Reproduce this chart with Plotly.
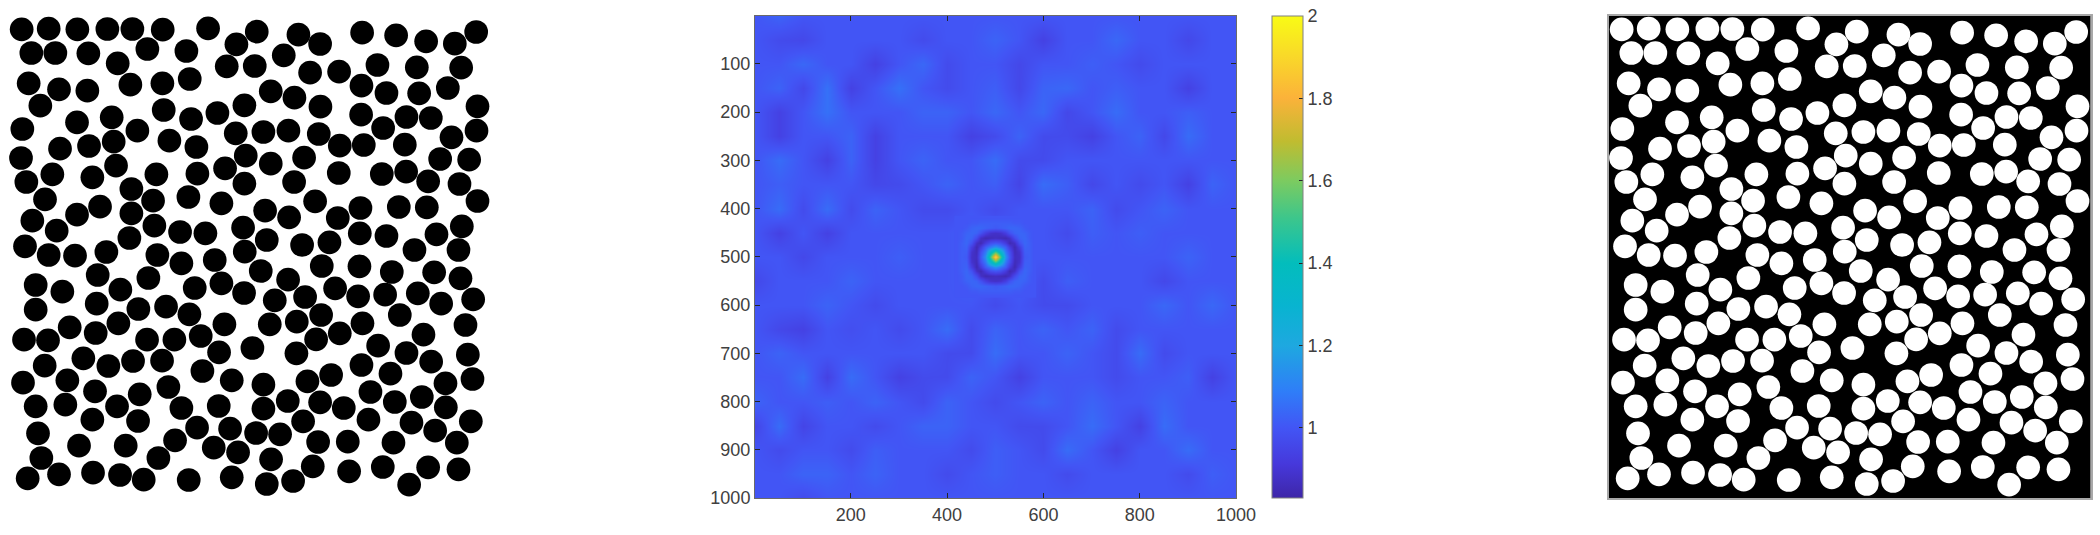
import plotly.graph_objects as go

W, H = 2100, 535

# Particle centres (unit = 1/3 of a screen pixel)
upper_x = [65,146,232,322,397,488,624,770,895,960,1086,1188,1278,1364,1428,709,
           94,166,265,442,559,851,353,680,764,930,1017,1132,1250,1383,
           86,177,262,391,487,569,812,883,1084,1159,1257,1343,
           121,491,733,652,573,961,1432,1083,
           335,231,67,412,1219,1292,1149,1429,
           707,790,865,956,341,508,267,180,589,1354,1019,1091,1214,
           63,737,912,812,1320,1407,
           348,157,277,469,592,675,1016,1145,1218,1284,1378,733,882,
           79,394,135,459,565,664,945,1432,1081,1196,1280,
           300,231,394,795,867,1013,97,
           463,540,616,729,1079,1159,1385,1309,170,
           388,800,906,988,75,
           146,225,319,472,544,644,734,1243,1375]
upper_y = [88,86,88,87,87,89,85,95,104,132,98,106,124,131,96,133,
           159,159,160,147,153,166,190,199,198,218,215,195,202,203,
           250,268,272,254,250,237,274,293,257,279,280,264,
           317,330,316,339,357,320,319,344,
           352,367,387,392,351,354,384,392,
           400,396,392,402,425,422,438,446,441,412,437,435,434,
           474,467,473,491,477,479,
           497,523,532,523,521,505,519,522,515,544,552,551,546,
           546,567,598,602,591,610,604,603,624,621,622,
           620,644,640,632,652,654,662,
           677,696,700,683,700,708,679,703,692,
           714,720,735,727,739,
           765,767,756,765,790,780,755,750,750]
lower_x = [782,965,1078,1175,1302,1381,
           293,107,187,361,445,584,664,732,864,824,915,1005,1074,1155,1253,1323,1419,
           107,290,415,498,568,673,809,890,963,1087,1199,1396,
           209,355,287,72,144,441,523,602,1019,948,1270,1134,
           757,657,889,250,399,486,325,134,1219,1403,1293,1084,1171,
           607,993,922,695,790,69,202,505,285,419,1336,1417,1111,1265,
           107,196,351,544,656,790,863,960,1031,1184,1337,
           277,414,909,1105,1234,1412,
           114,591,690,768,840,1305,
           525,237,377,954,1043,1180,1370,641,714,
           124,475,813,938,1047,1148,1284,1375,
           83,177,279,360,431,566,695,800,879,1227]
lower_y = [813,798,799,816,817,835,
           825,855,875,869,834,864,850,879,839,901,891,865,889,884,880,911,898,
           929,911,927,920,943,973,973,965,945,970,945,975,
           982,970,999,1019,1021,1019,1019,1008,1000,1018,1004,1037,
           1044,1057,1060,1075,1083,1082,1098,1097,1059,1064,1085,1095,1121,
           1113,1125,1144,1141,1154,1148,1141,1161,1174,1183,1150,1137,1176,1191,
           1219,1214,1219,1224,1218,1226,1203,1207,1224,1206,1222,
           1259,1263,1264,1259,1268,1264,
           1300,1283,1286,1299,1303,1292,
           1321,1337,1337,1326,1325,1328,1328,1343,1357,
           1374,1374,1378,1399,1414,1401,1402,1408,
           1435,1423,1418,1425,1439,1440,1432,1452,1443,1454]

# Autocorrelation texture, read by eye on a 50-unit grid (hundredths)
grid_axis = [0,50,100,150,200,250,300,350,400,450,500,550,600,650,700,750,800,850,900,950,1000]
texture = [
 [100,103,100,100,100,100,100,100,100,100,100,100,100,100,100,100,100,100,100,100,100],
 [100, 97, 96,100,100,100,100, 97,100,100,103,100, 94,100,100,104,100,100, 96,100,100],
 [100,100,104,100,100, 94,100,104, 97,100,100, 96,100,100,102,100, 97,100,100,100,100],
 [100,103, 96,106, 94,100,106,100, 97,100,102, 96,103,104,100,102,100,100, 94,100,100],
 [100, 94,100,106,100,100,100,103,103,100,104,100,104, 96,100,105,100,100,102,100,100],
 [100, 94,100,100,103, 94,100,100,100, 94, 97,103, 97, 97, 94,100,103, 96,105,100,100],
 [100,105,100, 94,103, 94,100,103,100,100,105, 97, 97,100,100,100,100,100,100,100,100],
 [100,102,100,100,100, 96, 97,100,103,100,102, 95,105,102, 96,100, 97,100, 94,103,100],
 [100,105, 97,105, 97,103,100, 97, 97,100, 97,100,100,100,103, 97,100,103,100,100,100],
 [100, 94,100, 94,100,100,100,100,100,102,100,100,100, 97,102,100,102,100,100,100,100],
 [100,100, 96,100,100,100,102,100,100,102,100,100,100,100,100,100,100,100,103,100,100],
 [ 96,100,100,100,103,100,100,100,100,102,100,102, 97,102,100,100,100, 96,100,100,100],
 [100,100,100,103,100, 97,100,100,100,100, 97,100, 97, 97,100,100,100,104,100,104,100],
 [100, 96, 94,100, 98,100, 97,100,105, 97,103,100,103,100,103, 97,100,100,100,100,100],
 [100,103,100,100,100,100,100,100, 97, 97,105,100,100,103,100, 97,105, 97,100,100,100],
 [100,100,105, 94,105,100, 94, 97, 97,103,100, 94,100,100,100, 97,100,100,102, 94,100],
 [103,100,100,102,100,103,100, 97,103,100, 97,100,103,100,103,100,100,103,100,100,100],
 [ 95,105, 95,100,100, 97,100,103,103,100,100, 97, 97,100,105,100, 94,105,100,100,100],
 [100, 97,100,100, 97,102,100,100,100, 97,102,100, 97,105,100, 94,100,100,105,100,100],
 [100,100,103,103,100,103,100,100, 97,100,102,100,100, 97,100,100,100,100, 97,102,100],
 [100,100, 97,100,100,100,100,100,100,100,100,100,100,100,100,100,100,100,100,100,100],
]

# Central peak and dark ring, read by eye on a 10-unit grid (hundredths)
peak_axis = [420,430,440,450,460,470,480,490,500,510,520,530,540,550,560,570,580]
peak = [
 [100,100,100,100,100,100,100,100,100,100,100,100,100,100,100,100,100],
 [100,100,100,101,101,102,102,102,102,102,102,102,101,101,100,100,100],
 [100,100,101,103,104,104,103,102,101,102,103,104,104,103,101,100,100],
 [100,101,103,104,103, 99, 93, 89, 88, 89, 93, 99,103,104,103,101,100],
 [100,101,104,103, 97, 88, 85, 86, 87, 86, 85, 88, 97,103,104,101,100],
 [100,102,104, 99, 88, 85, 92, 98,100, 98, 92, 85, 88, 99,104,102,100],
 [100,102,103, 93, 85, 92,102,108,114,108,102, 92, 85, 93,103,102,100],
 [100,102,102, 89, 86, 98,108,132,152,132,108, 98, 86, 89,102,102,100],
 [100,102,101, 88, 87,100,114,152,192,152,114,100, 87, 88,101,102,100],
 [100,102,102, 89, 86, 98,108,132,152,132,108, 98, 86, 89,102,102,100],
 [100,102,103, 93, 85, 92,102,108,114,108,102, 92, 85, 93,103,102,100],
 [100,102,104, 99, 88, 85, 92, 98,100, 98, 92, 85, 88, 99,104,102,100],
 [100,101,104,103, 97, 88, 85, 86, 87, 86, 85, 88, 97,103,104,101,100],
 [100,101,103,104,103, 99, 93, 89, 88, 89, 93, 99,103,104,103,101,100],
 [100,100,101,103,104,104,103,102,101,102,103,104,104,103,101,100,100],
 [100,100,100,101,101,102,102,102,102,102,102,102,101,101,100,100,100],
 [100,100,100,100,100,100,100,100,100,100,100,100,100,100,100,100,100],
]

x_ticks = [200,400,600,800,1000]
y_ticks = [100,200,300,400,500,600,700,800,900,1000]
cbar_ticks = [1,1.2,1.4,1.6,1.8,2]
cbar_labels = ["1","1.2","1.4","1.6","1.8","2"]
parula = [[0,"#3e26a8"],[0.07,"#4638db"],[0.145,"#4255f5"],[0.22,"#2f7df8"],[0.316,"#1ea8e0"],
          [0.40,"#08b4d0"],[0.487,"#03bdbc"],[0.58,"#3cc68c"],[0.658,"#7ccb60"],[0.74,"#c0bc30"],
          [0.83,"#fbb23a"],[0.92,"#f9da28"],[1,"#f9fb15"]]

circle_x = upper_x + lower_x
circle_y = upper_y + lower_y
DIAMETER = 23.7

def pct(rows):
    return [[v / 100 for v in r] for r in rows]

fig = go.Figure()
fig.add_trace(go.Scatter(x=circle_x, y=circle_y, mode="markers", xaxis="x", yaxis="y",
                         marker=dict(size=DIAMETER, color="black", line_width=0), hoverinfo="skip"))
fig.add_trace(go.Heatmap(x=grid_axis, y=grid_axis, z=pct(texture), zsmooth="best", coloraxis="coloraxis",
                         xaxis="x2", yaxis="y2"))
fig.add_trace(go.Heatmap(x=peak_axis, y=peak_axis, z=pct(peak), zsmooth="best", coloraxis="coloraxis",
                         xaxis="x2", yaxis="y2"))
fig.add_trace(go.Scatter(x=circle_x, y=circle_y, mode="markers", xaxis="x3", yaxis="y3",
                         marker=dict(size=DIAMETER, color="white", line_width=0), hoverinfo="skip"))

def dom_x(a, b):
    return [a / W, b / W]
def dom_y(a, b):
    return [1 - b / H, 1 - a / H]

hidden = dict(visible=False, showgrid=False, zeroline=False)
tick = dict(ticks="inside", ticklen=5, tickwidth=1, tickcolor="#262626", showline=True, linecolor="#6a6a6a",
            linewidth=1, mirror="ticks", showgrid=False, zeroline=False,
            tickfont=dict(family="Liberation Sans", size=18, color="#404040"))
frame = dict(showticklabels=False, ticks="", showline=True, linecolor="#a8a8a8", linewidth=1.5, mirror=True,
             showgrid=False, zeroline=False)

fig.update_layout(
    width=W, height=H, autosize=False, margin=dict(l=0, r=0, t=0, b=0, autoexpand=False),
    paper_bgcolor="white", plot_bgcolor="white", showlegend=False,
    xaxis=dict(domain=dom_x(9, 490.5), range=[27, 1471], anchor="y", **hidden),
    yaxis=dict(domain=dom_y(16, 498), range=[1494, 48], anchor="x", **hidden),
    xaxis2=dict(domain=dom_x(755, 1236), range=[1, 1000], tickvals=x_ticks, anchor="y2", **tick),
    yaxis2=dict(domain=dom_y(16, 498), range=[1000, 1], tickvals=y_ticks, anchor="x2", **tick),
    xaxis3=dict(domain=dom_x(1609, 2090.5), range=[27, 1471], anchor="y3", **frame),
    yaxis3=dict(domain=dom_y(16, 498), range=[1494, 48], anchor="x3", **frame),
    coloraxis=dict(cmin=0.83, cmax=2, colorscale=parula,
                   colorbar=dict(thickness=31, thicknessmode="pixels", len=482, lenmode="pixels",
                                 x=1272 / W, xanchor="left", y=1 - 16 / H, yanchor="top", xpad=0, ypad=0,
                                 tickvals=cbar_ticks, ticktext=cbar_labels, ticks="inside", ticklen=4,
                                 tickcolor="#262626", outlinewidth=1, outlinecolor="#808080",
                                 tickfont=dict(family="Liberation Sans", size=18, color="#404040"))),
)
fig.add_shape(type="rect", xref="x3 domain", yref="y3 domain", x0=0, x1=1, y0=0, y1=1,
              fillcolor="black", line_width=0, layer="below")
fig.write_html("out.html", config={"displayModeBar": False},
               post_script="document.body.style.margin='0';document.documentElement.style.overflow='hidden';")
